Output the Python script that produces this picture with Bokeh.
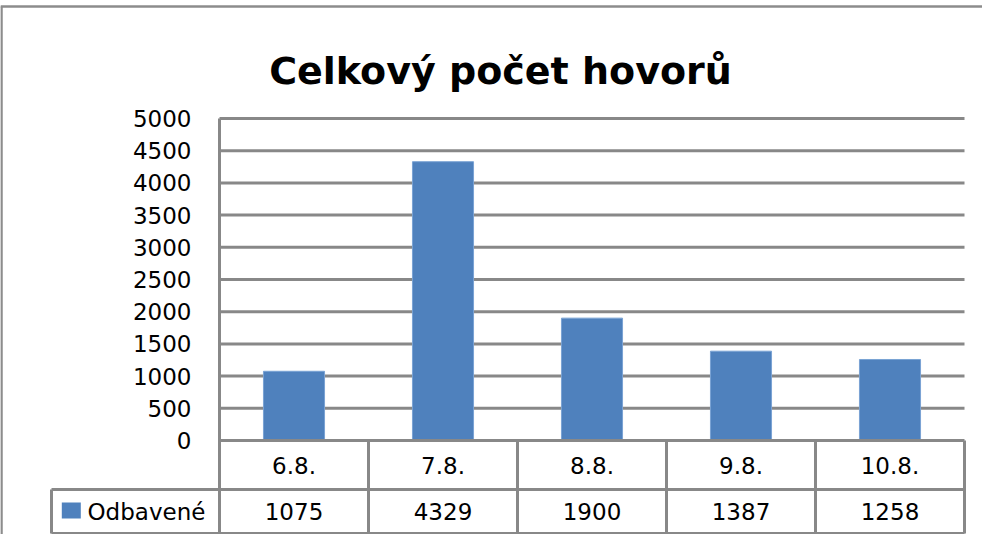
from bokeh.plotting import figure
from bokeh.models import Range1d, ColumnDataSource
from bokeh.core.properties import value
from bokeh.embed import file_html
from bokeh.resources import INLINE

# ---- data ----
categories = ["6.8.", "7.8.", "8.8.", "9.8.", "10.8."]
odbavene = [1075, 4329, 1900, 1387, 1258]
y_ticks = [0, 500, 1000, 1500, 2000, 2500, 3000, 3500, 4000, 4500, 5000]
series_name = "Odbavené"
chart_title = "Celkový počet hovorů"

# ---- layout (figure pixels) ----
W, H = 982, 534
PLOT_LEFT = 219          # pixel of the category axis start
COL_W = 149              # pixels per category
ZERO_Y = 440             # pixel of value 0
TOP_Y = 118              # pixel of value 5000
YMAX = 5000
ppy = (ZERO_Y - TOP_Y) / YMAX

X0 = -0.5 - PLOT_LEFT / COL_W
X1 = X0 + W / COL_W
Y1 = ZERO_Y / ppy
Y0 = -(H - ZERO_Y) / ppy


def fx(px):
    return X0 + px / COL_W


def fy(py):
    return (ZERO_Y - py) / ppy


n = len(categories)
xs = list(range(n))
GRID = "#888888"
BLUE = "#4F81BD"
FONT = value("DejaVu Sans")
LBL = value("23px")

p = figure(width=W, height=H, x_range=Range1d(X0, X1), y_range=Range1d(Y0, Y1),
           min_border=0, x_axis_location=None, y_axis_location=None,
           toolbar_location=None, output_backend="svg", title=None)
p.xgrid.visible = False
p.ygrid.visible = False
p.outline_line_color = None
p.background_fill_color = "white"
p.border_fill_color = "white"

# gridlines (behind bars)
gl = [t for t in y_ticks if t > 0]
p.segment(x0=[-0.5] * len(gl), x1=[n - 0.5] * len(gl), y0=gl, y1=gl,
          line_color=GRID, line_width=3)

# bars
src = ColumnDataSource(dict(x=xs, top=odbavene, cat=categories,
                            lab=[str(v) for v in odbavene]))
p.vbar(x="x", top="top", bottom=0, width=0.41, source=src,
       fill_color=BLUE, line_color="#7aa3d4", line_width=1)

# table geometry
row1_bot = fy(489)
row2_bot = fy(533)
leg_left = fx(51)

# zero line + table horizontals
p.segment(x0=[-0.5, leg_left, leg_left], x1=[n - 0.5] * 3,
          y0=[0, row1_bot, row2_bot], y1=[0, row1_bot, row2_bot],
          line_color=GRID, line_width=3)
# vertical lines: axis + column separators
vx = [i - 0.5 for i in range(n + 1)]
p.segment(x0=vx, x1=vx, y0=[YMAX] + [0] * n, y1=[row2_bot] * (n + 1),
          line_color=GRID, line_width=3)
p.segment(x0=[leg_left], x1=[leg_left], y0=[row1_bot], y1=[row2_bot],
          line_color=GRID, line_width=3)

# outer chart border (top and left visible)
p.segment(x0=[fx(1), fx(0)], x1=[fx(1), fx(W)], y0=[fy(6), fy(6)], y1=[fy(H), fy(6)],
          line_color="#8c8c8c", line_width=2.5)

# y tick labels
p.text(x=[fx(191)] * len(y_ticks), y=y_ticks, text=[str(t) for t in y_ticks],
       text_align="right", text_baseline="middle", text_font=FONT,
       text_font_size=LBL, text_color="black")

# category labels row
p.text(x="x", y=(0 + row1_bot) / 2, text="cat", source=src,
       text_align="center", text_baseline="middle", text_font=FONT,
       text_font_size=LBL, text_color="black")
# value row
p.text(x="x", y=(row1_bot + row2_bot) / 2, text="lab", source=src,
       text_align="center", text_baseline="middle", text_font=FONT,
       text_font_size=LBL, text_color="black")

# legend key + name
p.rect(x=[fx(70.8)], y=[fy(510)], width=19 / COL_W, height=16 / ppy,
       fill_color=BLUE, line_color=None)
p.text(x=[fx(87)], y=[(row1_bot + row2_bot) / 2], text=[series_name],
       text_align="left", text_baseline="middle", text_font=FONT,
       text_font_size=LBL, text_color="black")

# title
p.text(x=[fx(500)], y=[fy(70)], text=[chart_title], text_align="center",
       text_baseline="alphabetic", text_font=FONT, text_font_style="bold",
       text_font_size=value("38px"), text_color="black")

open("out.html", "w").write(file_html(p, INLINE))
